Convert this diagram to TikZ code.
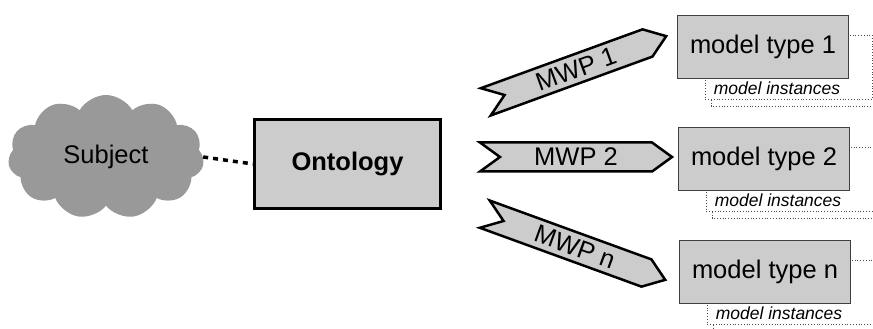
\documentclass[tikz,border=0pt]{standalone}
\usepackage{fontspec}
\setmainfont{Liberation Sans}
\usetikzlibrary{shapes.symbols}

\begin{document}
\begin{tikzpicture}[x=1pt, y=1pt,
  bigtext/.style={font=\fontsize{25.5}{30}\selectfont},
  mwp/.style={signal, signal from=west, signal to=east, signal pointer angle=72,
    draw, line width=2.5pt, fill=black!20, minimum width=192pt, minimum height=29pt,
    inner sep=0pt, bigtext},
  modeltype/.style={draw=black!75, line width=1pt, fill=black!20,
    minimum width=171pt, minimum height=63pt, bigtext},
  instances/.style={draw=black!70, dotted, line width=0.8pt, fill=white},
  insttext/.style={font=\fontsize{17.5}{20}\selectfont\itshape, inner sep=0pt}]
\useasboundingbox (0,0) rectangle (873,329);

% subject and ontology
\node[cloud, cloud puffs=11, cloud puff arc=120, aspect=1.6, fill=black!40,
  minimum width=196pt, minimum height=124pt, bigtext] (subject) at (106,172) {Subject};
\node[draw, line width=3pt, fill=black!20, minimum width=186pt, minimum height=89pt,
  font=\bfseries\fontsize{25.5}{30}\selectfont] (onto) at (347.5,165) {Ontology};
\draw[line width=3.5pt, dash pattern=on 5pt off 5pt] (subject.east) -- (onto.west);

% modelling work processes
\node[mwp, rotate=20] (mwp1) at (576,260) {MWP 1};
\node[mwp] (mwp2) at (576,172) {MWP 2};
\node[mwp, rotate=-20] (mwpn) at (575,82) {MWP n};

% model type 1
\begin{scope}[shift={(763,282)}]
\draw[instances] (-52,6) rectangle (116,-59);
\draw[instances] (-58,12) rectangle (109,-52);
\node[insttext] (inst1) at (14,-41) {model instances};
\node[modeltype] (type1) at (0,0) {model type 1};
\end{scope}

% model type 2
\begin{scope}[shift={(764,170)}]
\draw[instances] (-52,6) rectangle (116,-59);
\draw[instances] (-58,12) rectangle (109,-52);
\node[insttext] (inst2) at (14,-41) {model instances};
\node[modeltype] (type2) at (0,0) {model type 2};
\end{scope}

% model type n
\begin{scope}[shift={(765,57)}]
\draw[instances] (-52,6) rectangle (116,-59);
\draw[instances] (-58,12) rectangle (109,-52);
\node[insttext] (instn) at (14,-41) {model instances};
\node[modeltype] (typen) at (0,0) {model type n};
\end{scope}
\end{tikzpicture}
\end{document}
